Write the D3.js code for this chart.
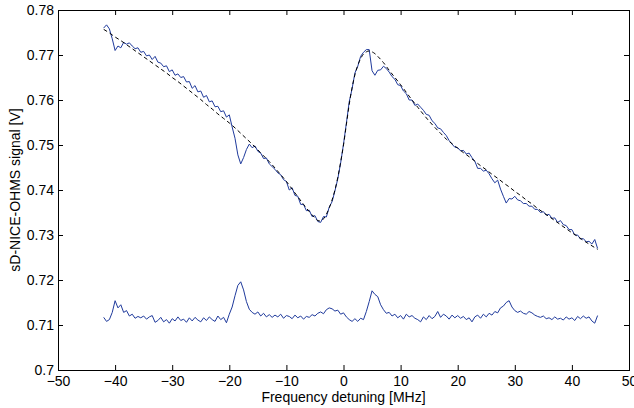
<!DOCTYPE html>
<html>
<head>
<meta charset="utf-8">
<script src="https://cdn.jsdelivr.net/npm/d3@7"></script>
<style>
  html, body { margin: 0; padding: 0; background: #fff; }
  svg { display: block; }
  text { font-family: "Liberation Sans", Arial, Helvetica, sans-serif; fill: #000; }
</style>
</head>
<body>
<svg id="chart" width="634" height="408"></svg>
<script>
// Sampling grid of the recorded sweeps [MHz]
const freq = d3.range(-42, 44.75, 0.5);

// Recorded sD-NICE-OHMS signal on the absorption line [V]
const signalOnLine = [
  0.7760, 0.7767, 0.7758, 0.7736, 0.7710, 0.7720, 0.7716, 0.7728, 0.7724, 0.7727,
  0.7720, 0.7714, 0.7716, 0.7706, 0.7708, 0.7698, 0.7700, 0.7690, 0.7697, 0.7684,
  0.7682, 0.7674, 0.7676, 0.7663, 0.7667, 0.7655, 0.7658, 0.7650, 0.7652, 0.7640,
  0.7641, 0.7626, 0.7632, 0.7618, 0.7620, 0.7606, 0.7610, 0.7596, 0.7598, 0.7585,
  0.7586, 0.7574, 0.7576, 0.7562, 0.7567, 0.7540, 0.7515, 0.7478, 0.7458, 0.7472,
  0.7490, 0.7502, 0.7494, 0.7498, 0.7486, 0.7482, 0.7470, 0.7471, 0.7458, 0.7452,
  0.7446, 0.7438, 0.7434, 0.7423, 0.7419, 0.7400, 0.7405, 0.7388, 0.7386, 0.7368,
  0.7368, 0.7354, 0.7355, 0.7341, 0.7343, 0.7330, 0.7328, 0.7341, 0.7340, 0.7362,
  0.7374, 0.7398, 0.7425, 0.7460, 0.7502, 0.7548, 0.7596, 0.7625, 0.7660, 0.7675,
  0.7697, 0.7706, 0.7712, 0.7712, 0.7665, 0.7655, 0.7666, 0.7667, 0.7675, 0.7670,
  0.7662, 0.7652, 0.7646, 0.7634, 0.7632, 0.7620, 0.7614, 0.7600, 0.7600, 0.7588,
  0.7591, 0.7584, 0.7577, 0.7568, 0.7566, 0.7554, 0.7548, 0.7538, 0.7536, 0.7528,
  0.7521, 0.7510, 0.7502, 0.7495, 0.7494, 0.7487, 0.7488, 0.7480, 0.7482, 0.7472,
  0.7464, 0.7448, 0.7448, 0.7442, 0.7444, 0.7436, 0.7425, 0.7416, 0.7422, 0.7402,
  0.7386, 0.7371, 0.7381, 0.7380, 0.7386, 0.7378, 0.7376, 0.7370, 0.7370, 0.7364,
  0.7364, 0.7357, 0.7357, 0.7350, 0.7352, 0.7344, 0.7346, 0.7337, 0.7338, 0.7328,
  0.7332, 0.7323, 0.7321, 0.7312, 0.7312, 0.7300, 0.7300, 0.7291, 0.7292, 0.7285,
  0.7286, 0.7280, 0.7290, 0.7270
];

// Fitted line-shape model (dashed)
const fitFreq = [
  -42, -41, -40, -39, -38, -37, -36, -35, -34, -33, -32, -31, -30, -29, -28, -27,
  -26, -25, -24, -23, -22, -21, -20, -19, -18, -17, -16, -15, -14, -13, -12, -11,
  -10, -9, -8, -7, -6, -5, -4.5, -4, -3.5, -3, -2.5, -2, -1.5, -1, -0.5, 0, 0.5,
  1, 1.5, 2, 2.5, 3, 3.5, 4, 4.5, 5, 5.5, 6, 7, 8, 9, 10, 11, 12, 13, 14, 15, 16,
  17, 18, 19, 20, 21, 22, 23, 24, 25, 26, 27, 28, 29, 30, 31, 32, 33, 34, 35, 36,
  37, 38, 39, 40, 41, 42, 43, 44, 44.5
];
const fitValue = [
  0.7757, 0.7749, 0.7740, 0.7732, 0.7723, 0.7714, 0.7705, 0.7696, 0.7687, 0.7678,
  0.7669, 0.7660, 0.7650, 0.7641, 0.7631, 0.7621, 0.7611, 0.7601, 0.7590, 0.7580,
  0.7569, 0.7559, 0.7549, 0.7538, 0.7526, 0.7514, 0.7502, 0.7489, 0.7476, 0.7463,
  0.7449, 0.7434, 0.7419, 0.7402, 0.7385, 0.7368, 0.7352, 0.7338, 0.7332, 0.7331,
  0.7336, 0.7346, 0.7360, 0.7378, 0.7400, 0.7428, 0.7462, 0.7500, 0.7545, 0.7590,
  0.7627, 0.7656, 0.7677, 0.7692, 0.7702, 0.7707, 0.7709, 0.7707, 0.7703, 0.7697,
  0.7683, 0.7666, 0.7650, 0.7634, 0.7617, 0.7600, 0.7584, 0.7568, 0.7553, 0.7539,
  0.7526, 0.7513, 0.7503, 0.7493, 0.7483, 0.7474, 0.7464, 0.7454, 0.7445, 0.7435,
  0.7426, 0.7416, 0.7407, 0.7397, 0.7388, 0.7378, 0.7369, 0.7359, 0.7350, 0.7341,
  0.7332, 0.7323, 0.7314, 0.7305, 0.7297, 0.7288, 0.7280, 0.7272, 0.7268
];

// Residual-type lower trace [V]
const signalLower = [
  0.7117, 0.7108, 0.7112, 0.7128, 0.7154, 0.7138, 0.7145, 0.7128, 0.7132, 0.7120,
  0.7124, 0.7115, 0.7119, 0.7116, 0.7120, 0.7113, 0.7118, 0.7121, 0.7106, 0.7110,
  0.7117, 0.7107, 0.7112, 0.7104, 0.7114, 0.7109, 0.7118, 0.7110, 0.7113, 0.7106,
  0.7116, 0.7109, 0.7117, 0.7111, 0.7107, 0.7116, 0.7110, 0.7118, 0.7112, 0.7108,
  0.7120, 0.7112, 0.7117, 0.7105, 0.7124, 0.7140, 0.7165, 0.7188, 0.7196, 0.7178,
  0.7152, 0.7135, 0.7128, 0.7124, 0.7129, 0.7120, 0.7126, 0.7118, 0.7123, 0.7117,
  0.7122, 0.7118, 0.7124, 0.7115, 0.7121, 0.7119, 0.7114, 0.7122, 0.7116, 0.7120,
  0.7113, 0.7119, 0.7117, 0.7123, 0.7120, 0.7126, 0.7129, 0.7125, 0.7134, 0.7138,
  0.7136, 0.7131, 0.7133, 0.7124, 0.7127, 0.7118, 0.7112, 0.7108, 0.7114, 0.7108,
  0.7115, 0.7112, 0.7130, 0.7152, 0.7176, 0.7168, 0.7163, 0.7145, 0.7134, 0.7126,
  0.7128, 0.7120, 0.7124, 0.7116, 0.7121, 0.7113, 0.7124, 0.7118, 0.7121, 0.7115,
  0.7112, 0.7107, 0.7118, 0.7112, 0.7121, 0.7114, 0.7119, 0.7130, 0.7117, 0.7124,
  0.7120, 0.7113, 0.7122, 0.7116, 0.7121, 0.7115, 0.7119, 0.7112, 0.7116, 0.7107,
  0.7118, 0.7122, 0.7115, 0.7124, 0.7118, 0.7126, 0.7122, 0.7130, 0.7127, 0.7138,
  0.7142, 0.7150, 0.7154, 0.7140, 0.7132, 0.7128, 0.7131, 0.7126, 0.7124, 0.7130,
  0.7127, 0.7122, 0.7119, 0.7117, 0.7120, 0.7114, 0.7116, 0.7112, 0.7118, 0.7113,
  0.7115, 0.7111, 0.7118, 0.7113, 0.7116, 0.7110, 0.7119, 0.7114, 0.7120, 0.7115,
  0.7118, 0.7109, 0.7104, 0.7121
];

// Axis ticks and their labels
const xTicks = [-50, -40, -30, -20, -10, 0, 10, 20, 30, 40, 50];
const xTickLabels = ["\u221250", "\u221240", "\u221230", "\u221220", "\u221210", "0", "10", "20", "30", "40", "50"];
const yTicks = [0.70, 0.71, 0.72, 0.73, 0.74, 0.75, 0.76, 0.77, 0.78];
const yTickLabels = ["0.7", "0.71", "0.72", "0.73", "0.74", "0.75", "0.76", "0.77", "0.78"];

const xTitle = "Frequency detuning [MHz]";
const yTitle = "sD-NICE-OHMS signal [V]";

const margin = { left: 58, right: 5, top: 10, bottom: 38 };
const W = 634, H = 408;
const plotW = W - margin.left - margin.right;
const plotH = H - margin.top - margin.bottom;

const svg = d3.select("#chart");
const g = svg.append("g").attr("transform", `translate(${margin.left},${margin.top})`);

const x = d3.scaleLinear().domain([-50, 50]).range([0, plotW]);
const y = d3.scaleLinear().domain([0.70, 0.78]).range([plotH, 0]);

const traceColor = "#1f3a9c";

const line = d3.line()
  .x(d => x(d[0]))
  .y(d => y(d[1]));

g.append("path")
  .datum(freq.map((f, i) => [f, signalLower[i]]))
  .attr("fill", "none")
  .attr("stroke", traceColor)
  .attr("stroke-width", 1)
  .attr("stroke-linejoin", "round")
  .attr("d", line);

g.append("path")
  .datum(freq.map((f, i) => [f, signalOnLine[i]]))
  .attr("fill", "none")
  .attr("stroke", traceColor)
  .attr("stroke-width", 1)
  .attr("stroke-linejoin", "round")
  .attr("d", line);

g.append("path")
  .datum(fitFreq.map((f, i) => [f, fitValue[i]]))
  .attr("fill", "none")
  .attr("stroke", "#000")
  .attr("stroke-width", 1)
  .attr("stroke-dasharray", "4,3")
  .attr("d", line.curve(d3.curveMonotoneX));

// Axes with inward ticks on all four sides
const fontSize = 14;
const xAxis = d3.axisBottom(x).tickValues(xTicks)
  .tickFormat((d, i) => xTickLabels[i])
  .tickSizeInner(-5).tickSizeOuter(0).tickPadding(6);
const yAxis = d3.axisLeft(y).tickValues(yTicks)
  .tickFormat((d, i) => yTickLabels[i])
  .tickSizeInner(-5).tickSizeOuter(0).tickPadding(4);
const xAxisTop = d3.axisTop(x).tickValues(xTicks).tickFormat("")
  .tickSizeInner(-5).tickSizeOuter(0);
const yAxisRight = d3.axisRight(y).tickValues(yTicks).tickFormat("")
  .tickSizeInner(-5).tickSizeOuter(0);

function styleAxis(sel) {
  sel.select(".domain").remove();
  sel.selectAll(".tick line").attr("stroke", "#000").attr("stroke-width", 1);
  sel.selectAll(".tick text")
    .style("font-family", '"Liberation Sans", Arial, Helvetica, sans-serif')
    .style("font-size", fontSize + "px")
    .attr("fill", "#000");
}

g.append("g").attr("transform", `translate(0,${plotH})`).call(xAxis).call(styleAxis);
g.append("g").call(yAxis).call(styleAxis);
g.append("g").call(xAxisTop).call(styleAxis);
g.append("g").attr("transform", `translate(${plotW},0)`).call(yAxisRight).call(styleAxis);

g.append("rect")
  .attr("x", 0).attr("y", 0)
  .attr("width", plotW).attr("height", plotH)
  .attr("fill", "none").attr("stroke", "#000").attr("stroke-width", 1)
  .attr("shape-rendering", "crispEdges");

// Axis titles
svg.append("text")
  .attr("x", margin.left + plotW / 2)
  .attr("y", 402)
  .attr("text-anchor", "middle")
  .style("font-size", fontSize + "px")
  .text(xTitle);

svg.append("text")
  .attr("transform", `translate(20,${margin.top + plotH / 2}) rotate(-90)`)
  .attr("text-anchor", "middle")
  .style("font-size", fontSize + "px")
  .text(yTitle);
</script>
</body>
</html>
